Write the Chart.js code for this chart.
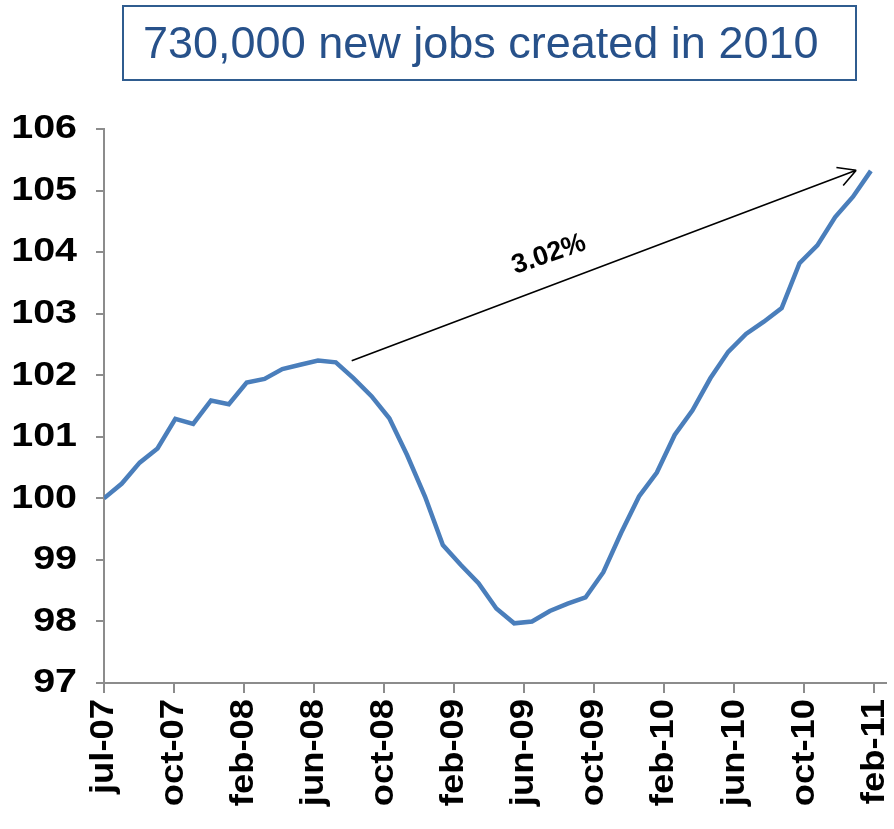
<!DOCTYPE html>
<html>
<head>
<meta charset="utf-8">
<script src="https://cdn.jsdelivr.net/npm/chart.js@4"></script>
<style>
  body { margin: 0; background: #fff; }
  #wrap { position: relative; width: 894px; height: 829px; }
  #headline {
    position: absolute; left: 122px; top: 5px; width: 735px; height: 76px;
    box-sizing: border-box; border: 2.5px solid #2f5c8f;
    font-family: "Liberation Sans", Arial, sans-serif; font-size: 45px;
    color: #27518a; line-height: 71px; padding-left: 19px; white-space: nowrap;
  }
</style>
</head>
<body>
<div id="wrap">
  <canvas id="chart" width="894" height="829"></canvas>
  <div id="headline">730,000 new jobs created in 2010</div>
</div>
<script>
// employment index, monthly from jul-07 to feb-11 (jul-07 = 100)
var months = ['jul-07', 'aug-07', 'sep-07', 'oct-07', 'nov-07', 'dec-07',
  'jan-08', 'feb-08', 'mar-08', 'apr-08', 'may-08', 'jun-08', 'jul-08', 'aug-08', 'sep-08', 'oct-08', 'nov-08', 'dec-08',
  'jan-09', 'feb-09', 'mar-09', 'apr-09', 'may-09', 'jun-09', 'jul-09', 'aug-09', 'sep-09', 'oct-09', 'nov-09', 'dec-09',
  'jan-10', 'feb-10', 'mar-10', 'apr-10', 'may-10', 'jun-10', 'jul-10', 'aug-10', 'sep-10', 'oct-10', 'nov-10', 'dec-10',
  'jan-11', 'feb-11'];
var jobsIndex = [100.00, 100.24, 100.58, 100.81, 101.29, 101.21, 101.59, 101.53, 101.88, 101.94,
  102.10, 102.17, 102.24, 102.21, 101.95, 101.66, 101.30, 100.70, 100.03, 99.24,
  98.92, 98.62, 98.21, 97.97, 98.00, 98.17, 98.29, 98.39, 98.80, 99.44,
  100.03, 100.42, 101.03, 101.43, 101.95, 102.38, 102.67, 102.87, 103.09, 103.82,
  104.11, 104.57, 104.90, 105.32];
var tickLabels = ['jul-07', 'oct-07', 'feb-08', 'jun-08', 'oct-08', 'feb-09',
  'jun-09', 'oct-09', 'feb-10', 'jun-10', 'oct-10', 'feb-11'];
var tickStep = 3.926;

// growth arrow, from the jun-08 peak to the latest month
var arrowFrom = { x: 13.89, y: 102.235 };
var arrowTo = { x: 42.18, y: 105.33 };
var arrowText = '3.02%';
var arrowTextAt = { x: 24.95, y: 103.96 };

var points = jobsIndex.map(function (v, i) { return { x: i, y: v }; });

var labelFont = '"Liberation Sans", Arial, sans-serif';

// stretch a scale's tick labels along the reading direction, anchored at the tick side
function stretchLabels(scale, factor) {
  if (scale._stretched) return;
  scale._stretched = true;
  var orig = scale.drawLabels;
  scale.drawLabels = function (area) {
    var ctx = this.ctx;
    var gap = this.options.grid.tickLength + this.options.ticks.padding;
    ctx.save();
    if (this.isHorizontal()) {
      var y0 = this.top + gap;
      ctx.translate(0, y0);
      ctx.scale(1, factor);
      ctx.translate(0, -y0);
    } else {
      var x0 = this.right - gap;
      ctx.translate(x0, 0);
      ctx.scale(factor, 1);
      ctx.translate(-x0, 0);
    }
    orig.call(this, area);
    ctx.restore();
  };
}

var arrowPlugin = {
  id: 'growthArrow',
  afterDatasetsDraw: function (chart) {
    var ctx = chart.ctx, xs = chart.scales.x, ys = chart.scales.y;
    var x1 = xs.getPixelForValue(arrowFrom.x), y1 = ys.getPixelForValue(arrowFrom.y);
    var x2 = xs.getPixelForValue(arrowTo.x), y2 = ys.getPixelForValue(arrowTo.y);
    var ang = Math.atan2(y2 - y1, x2 - x1);
    ctx.save();
    ctx.strokeStyle = '#000';
    ctx.lineWidth = 1.6;
    ctx.beginPath();
    ctx.moveTo(x1, y1);
    ctx.lineTo(x2, y2);
    [0.5, -0.5].forEach(function (d) {
      ctx.moveTo(x2, y2);
      ctx.lineTo(x2 - 20 * Math.cos(ang + d), y2 - 20 * Math.sin(ang + d));
    });
    ctx.stroke();

    var tx = xs.getPixelForValue(arrowTextAt.x), ty = ys.getPixelForValue(arrowTextAt.y);
    ctx.translate(tx, ty);
    ctx.rotate(-19 * Math.PI / 180);
    ctx.fillStyle = '#000';
    ctx.font = 'bold 27px ' + labelFont;
    ctx.textAlign = 'center';
    ctx.textBaseline = 'middle';
    ctx.fillText(arrowText, 0, 0);
    ctx.restore();
  }
};

new Chart(document.getElementById('chart'), {
  type: 'line',
  data: {
    datasets: [{
      label: 'Employment',
      data: points,
      borderColor: '#4a7ebb',
      borderWidth: 4.5,
      pointRadius: 0,
      tension: 0,
      fill: false
    }]
  },
  options: {
    responsive: false,
    animation: false,
    layout: { padding: { top: 129, right: 8, left: 0, bottom: 0 } },
    plugins: { legend: { display: false }, tooltip: { enabled: false } },
    scales: {
      x: {
        type: 'linear',
        min: 0,
        max: 43.85,
        afterBuildTicks: function (scale) {
          scale.ticks = tickLabels.map(function (l, k) { return { value: k * tickStep }; });
        },
        afterFit: function (scale) {
          scale.height = 146;
          scale.paddingLeft = 0;
          scale.paddingRight = 0;
          stretchLabels(scale, 1.07);
        },
        border: { color: '#8c8c8c', width: 2 },
        grid: { drawOnChartArea: false, tickLength: 10, color: '#8c8c8c', lineWidth: 2 },
        ticks: {
          autoSkip: false,
          maxRotation: 90,
          minRotation: 90,
          padding: 6,
          color: '#000',
          font: { family: labelFont, size: 34, weight: 'bold' },
          callback: function (v, i) { return tickLabels[i]; }
        }
      },
      y: {
        min: 97,
        max: 106,
        afterFit: function (scale) {
          scale.width = 104;
          scale.paddingTop = 0;
          scale.paddingBottom = 0;
          stretchLabels(scale, 1.16);
        },
        border: { color: '#8c8c8c', width: 2 },
        grid: { drawOnChartArea: false, tickLength: 8, color: '#8c8c8c', lineWidth: 2 },
        ticks: {
          stepSize: 1,
          padding: 19,
          color: '#000',
          font: { family: labelFont, size: 34, weight: 'bold' }
        }
      }
    }
  },
  plugins: [arrowPlugin]
});
</script>
</body>
</html>
